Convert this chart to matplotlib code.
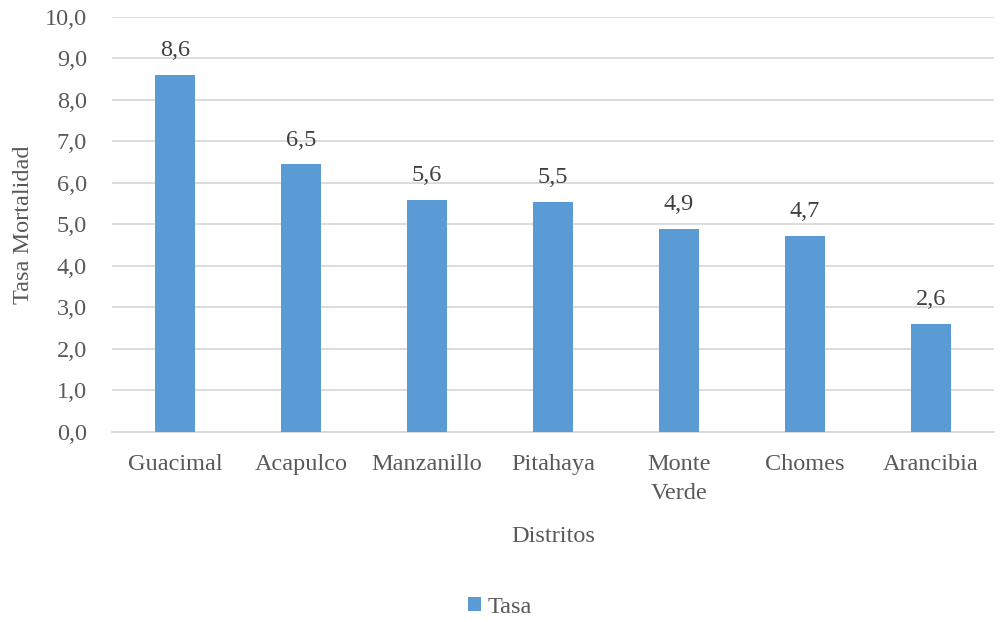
import matplotlib.pyplot as plt
import numpy as np

# datos
distritos = ["Guacimal", "Acapulco", "Manzanillo", "Pitahaya", "Monte\nVerde", "Chomes", "Arancibia"]
tasa = [8.6, 6.45, 5.6, 5.54, 4.9, 4.72, 2.6]
etiquetas = ["8,6", "6,5", "5,6", "5,5", "4,9", "4,7", "2,6"]
yticks = [0, 1, 2, 3, 4, 5, 6, 7, 8, 9, 10]

plt.rcParams['font.family'] = ['Liberation Serif', 'DejaVu Serif']
gris = '#595959'
azul = '#5B9BD5'
fs = 17.5

fig = plt.figure(figsize=(10, 6.22), dpi=100)
ax = fig.add_axes([0.112, 0.3055, 0.882, 0.6672])

x = np.arange(len(distritos))
bars = ax.bar(x, tasa, width=0.32, color=azul, label='Tasa', zorder=3)

for b, t in zip(bars, etiquetas):
    ax.text(b.get_x() + b.get_width() / 2, b.get_height() + 0.33, t,
            ha='center', va='bottom', fontsize=fs, color='#404040')

ax.set_xlim(-0.5, len(distritos) - 0.5)
ax.set_ylim(0, 10)
ax.set_yticks(yticks)
ax.set_yticklabels([f"{v:.1f}".replace('.', ',') for v in yticks])
ax.set_xticks(x)
ax.set_xticklabels(distritos, linespacing=1.5)

ax.yaxis.grid(True, color='#D9D9D9', linewidth=1.3, zorder=0)
for s in ['top', 'right', 'left']:
    ax.spines[s].set_visible(False)
ax.spines['bottom'].set_color('#D9D9D9')
ax.spines['bottom'].set_linewidth(1.3)
ax.tick_params(axis='both', length=0, labelsize=fs, colors=gris)
ax.tick_params(axis='y', pad=18)
ax.tick_params(axis='x', pad=16)

ax.set_xlabel('Distritos', fontsize=fs, color=gris, labelpad=16)
ax.set_ylabel('Tasa Mortalidad', fontsize=fs, color=gris, labelpad=8)

fig.legend(handles=[bars], labels=['Tasa'], loc='center', bbox_to_anchor=(0.5, 0.024),
           frameon=False, fontsize=fs, handlelength=0.55, handleheight=0.55,
           handletextpad=0.25, labelcolor=gris)

plt.savefig('out.png', dpi=100)
